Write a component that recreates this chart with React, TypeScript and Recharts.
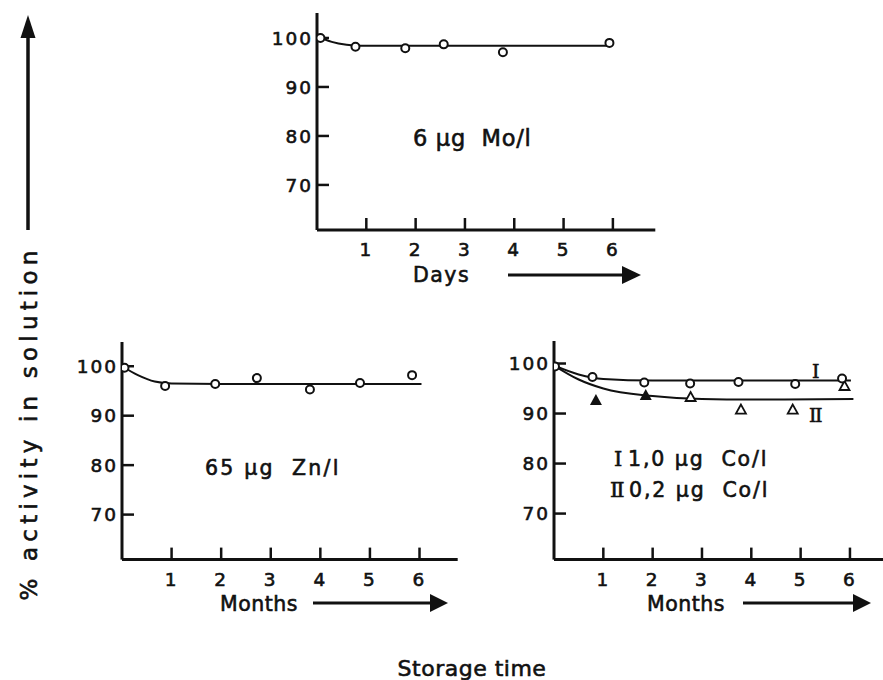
import React from "react";
import { ComposedChart, Line, Scatter, XAxis, YAxis } from "recharts";

const xTicks = [1, 2, 3, 4, 5, 6];
const yTicks = [70, 80, 90, 100];

// 6 µg Mo/l, days
const moDays = [0.07, 0.78, 1.79, 2.57, 3.77, 5.93];
const moActivity = [100.0, 98.2, 97.9, 98.7, 97.1, 99.0];
const moFitDays = [0, 0.3, 0.6, 0.9, 1.5, 5.9];
const moFit = [100.4, 99.2, 98.6, 98.4, 98.4, 98.4];

// 65 µg Zn/l, months
const znMonths = [0.05, 0.87, 1.88, 2.72, 3.79, 4.8, 5.85];
const znActivity = [99.7, 96.0, 96.4, 97.6, 95.3, 96.6, 98.2];
const znFitMonths = [0, 0.32, 0.66, 1.0, 2.0, 6.04];
const znFit = [100.0, 98.2, 96.9, 96.5, 96.4, 96.4];

// Co, months: I = 1,0 µg Co/l, II = 0,2 µg Co/l
const coIMonths = [0.02, 0.78, 1.83, 2.76, 3.74, 4.89, 5.84];
const coIActivity = [99.4, 97.3, 96.2, 96.0, 96.3, 95.9, 97.0];
const coIFitMonths = [0, 0.5, 1.0, 2.0, 6.02];
const coIFit = [99.6, 97.8, 96.9, 96.6, 96.6];
const coIISolidMonths = [0.85, 1.86];
const coIISolidActivity = [92.7, 93.7];
const coIIOpenMonths = [2.77, 3.79, 4.84, 5.89];
const coIIOpenActivity = [93.3, 90.8, 90.8, 95.5];
const coIIFitMonths = [0, 0.5, 1.0, 2.0, 3.0, 4.0, 6.07];
const coIIFit = [99.6, 96.8, 95.0, 93.5, 92.9, 92.8, 92.9];

const zip = (xs: number[], ys: number[]) => xs.map((x, i) => ({ x, y: ys[i] }));

const FONT = "'DejaVu Sans', sans-serif";
const SERIF = "'DejaVu Serif', serif";

// tick labels drawn by hand so the font size sticks
const AxisTick = (p: any) => (
  <text
    x={p.x}
    y={p.y}
    textAnchor={p.textAnchor}
    dy={p.verticalAnchor === "start" ? "0.72em" : "0.36em"}
    fontSize={18.5}
    fontFamily={FONT}
    letterSpacing={2}
    fill="#111"
    stroke="#111"
    strokeWidth={0.6}
  >
    {p.payload.value}
  </text>
);

const OpenCircle = (p: any) => (
  <circle cx={p.cx} cy={p.cy} r={4} fill="#fff" stroke="#111" strokeWidth={2} />
);
const SolidTriangle = (p: any) => (
  <path d={`M${p.cx},${p.cy - 6}L${p.cx - 6},${p.cy + 5}L${p.cx + 6},${p.cy + 5}Z`} fill="#111" />
);
const OpenTriangle = (p: any) => (
  <path
    d={`M${p.cx},${p.cy - 5}L${p.cx - 5},${p.cy + 4}L${p.cx + 5},${p.cy + 4}Z`}
    fill="#fff"
    stroke="#111"
    strokeWidth={1.8}
  />
);

interface PanelProps {
  left: number;
  top: number;
  width: number;
  height: number;
  xMax: number;
  yMin: number;
  yMax: number;
  children: React.ReactNode;
}

function Panel({ left, top, width, height, xMax, yMin, yMax, children }: PanelProps) {
  return (
    <div style={{ position: "absolute", left: left - 70, top: top - 10 }}>
      <ComposedChart
        width={width + 80}
        height={height + 50}
        margin={{ top: 10, right: 10, bottom: 10, left: 10 }}
      >
        <XAxis
          type="number"
          dataKey="x"
          domain={[0, xMax]}
          ticks={xTicks}
          interval={0}
          allowDataOverflow
          height={30}
          axisLine={{ stroke: "#111", strokeWidth: 3 }}
          tickLine={{ stroke: "#111", strokeWidth: 2.5 }}
          tickSize={-12}
          tickMargin={25}
          tick={AxisTick}
        />
        <YAxis
          type="number"
          dataKey="y"
          domain={[yMin, yMax]}
          ticks={yTicks}
          interval={0}
          allowDataOverflow
          width={60}
          axisLine={{ stroke: "#111", strokeWidth: 3 }}
          tickLine={{ stroke: "#111", strokeWidth: 2.5 }}
          tickSize={-12}
          tickMargin={16}
          tick={AxisTick}
        />
        {children}
      </ComposedChart>
    </div>
  );
}

const fitLine = (data: { x: number; y: number }[], name: string) => (
  <Line
    key={name}
    name={name}
    data={data}
    dataKey="y"
    type="monotone"
    stroke="#111"
    strokeWidth={2}
    dot={false}
    activeDot={false}
    isAnimationActive={false}
  />
);

export default function App() {
  const txt = {
    fontFamily: FONT,
    fill: "#111",
    stroke: "#111",
    strokeWidth: 0.6,
    whiteSpace: "pre" as const,
  };
  return (
    <div
      style={{
        position: "absolute",
        left: 0,
        top: 0,
        width: 883,
        height: 680,
        overflow: "hidden",
        background: "#fff",
      }}
    >
      {/* Mo, days */}
      <Panel left={316.7} top={13} width={338.3} height={217} xMax={6.86} yMin={60.8} yMax={105.1}>
        {fitLine(zip(moFitDays, moFit), "moFit")}
        <Scatter name="Mo" data={zip(moDays, moActivity)} dataKey="y" shape={OpenCircle} isAnimationActive={false} />
      </Panel>

      {/* Zn, months */}
      <Panel left={122.3} top={341.7} width={335.7} height={217.6} xMax={6.77} yMin={60.9} yMax={104.9}>
        {fitLine(zip(znFitMonths, znFit), "znFit")}
        <Scatter name="Zn" data={zip(znMonths, znActivity)} dataKey="y" shape={OpenCircle} isAnimationActive={false} />
      </Panel>

      {/* Co, months */}
      <Panel left={553.5} top={340.7} width={329.5} height={218.6} xMax={6.68} yMin={60.8} yMax={104.5}>
        {fitLine(zip(coIFitMonths, coIFit), "coIFit")}
        {fitLine(zip(coIIFitMonths, coIIFit), "coIIFit")}
        <Scatter name="II solid" data={zip(coIISolidMonths, coIISolidActivity)} dataKey="y" shape={SolidTriangle} isAnimationActive={false} />
        <Scatter name="II open" data={zip(coIIOpenMonths, coIIOpenActivity)} dataKey="y" shape={OpenTriangle} isAnimationActive={false} />
        <Scatter name="I" data={zip(coIMonths, coIActivity)} dataKey="y" shape={OpenCircle} isAnimationActive={false} />
      </Panel>

      <svg
        width={883}
        height={680}
        style={{ position: "absolute", left: 0, top: 0, pointerEvents: "none" }}
      >
        {/* y arrow and title */}
        <line x1={28} y1={34} x2={28} y2={230} stroke="#111" strokeWidth={3.5} />
        <polygon points="28,15 20.5,38 35.5,38" fill="#111" />
        <text
          transform="translate(37,423) rotate(-90)"
          textAnchor="middle"
          fontSize={23}
          letterSpacing={5.2}
          style={txt}
        >
          % activity in solution
        </text>

        {/* panel texts */}
        <text x={413} y={146} fontSize={22.5} letterSpacing={0.7} style={txt}>6 µg  Mo/l</text>
        <text x={205} y={475} fontSize={20.5} letterSpacing={2.2} style={txt}>65 µg  Zn/l</text>
        <text x={614} y={466} fontSize={21} style={{ ...txt, fontFamily: SERIF }}>I</text>
        <text x={628} y={466} fontSize={20.5} letterSpacing={1.9} style={txt}>1,0 µg  Co/l</text>
        <text x={610} y={497} fontSize={21} letterSpacing={-2} style={{ ...txt, fontFamily: SERIF }}>II</text>
        <text x={629} y={497} fontSize={20.5} letterSpacing={1.9} style={txt}>0,2 µg  Co/l</text>
        <text x={812} y={378} fontSize={19} style={{ ...txt, fontFamily: SERIF }}>I</text>
        <text x={809} y={422} fontSize={19} letterSpacing={-1.5} style={{ ...txt, fontFamily: SERIF }}>II</text>

        {/* x labels with arrows */}
        <text x={413} y={282} fontSize={20.5} letterSpacing={1.5} style={txt}>Days</text>
        <line x1={508} y1={275} x2={624} y2={275} stroke="#111" strokeWidth={3} />
        <polygon points="622,266 641,275 622,284" fill="#111" />

        <text x={220} y={611} fontSize={20.5} letterSpacing={0.5} style={txt}>Months</text>
        <line x1={313} y1={603} x2={432} y2={603} stroke="#111" strokeWidth={3} />
        <polygon points="430,594 448,603 430,612" fill="#111" />

        <text x={647} y={611} fontSize={20.5} letterSpacing={0.5} style={txt}>Months</text>
        <line x1={743} y1={603} x2={855} y2={603} stroke="#111" strokeWidth={3} />
        <polygon points="853,594 871,603 853,612" fill="#111" />

        <text x={472} y={676} textAnchor="middle" fontSize={22} letterSpacing={0.5} style={txt}>
          Storage time
        </text>
      </svg>
    </div>
  );
}
